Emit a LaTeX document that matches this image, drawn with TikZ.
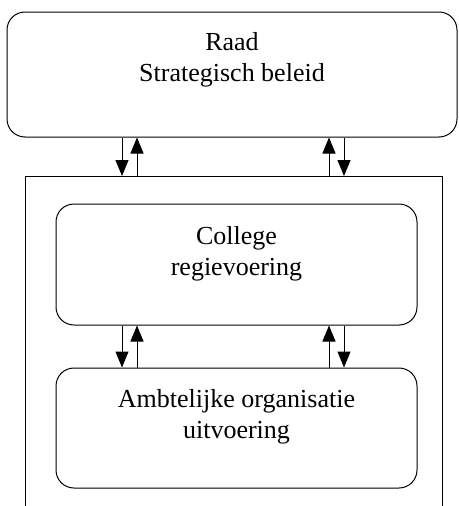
\documentclass[tikz,border=0pt]{standalone}
\usepackage{fontspec}
\setmainfont{Liberation Serif}
\usetikzlibrary{arrows.meta}

\begin{document}
\begin{tikzpicture}[x=1pt, y=-1pt,
    box/.style={draw, rounded corners=18pt, line width=1pt, inner sep=0pt},
    boxtext/.style={anchor=north, align=center, inner sep=0pt, font=\rmfamily\fontsize{26}{31}\selectfont},
    arr/.style={line width=1pt, -{Triangle[length=16pt, width=13pt]}}]
    \useasboundingbox (0, 0) rectangle (458, 506);
    \clip (0, 0) rectangle (458, 506);
    %\draw[lightgray] (0, 0) grid[step=50] (458, 506);
    \node[box, minimum width=450pt, minimum height=125pt] (raad) at (232, 74.5) {};
    \node[boxtext] (raadtekst) at ([yshift=-21pt] raad.north) {Raad\\Strategisch beleid};
    \node[draw, line width=1pt, minimum width=417pt, minimum height=360pt, anchor=north] (gemeente) at (233.5, 176) {};
    \node[box, minimum width=361pt, minimum height=121pt] (college) at (236.5, 264.5) {};
    \node[boxtext] (collegetekst) at ([yshift=-23pt] college.north) {College\\regievoering};
    \node[box, minimum width=361pt, minimum height=120pt] (ambtelijk) at (236.5, 428) {};
    \node[boxtext] (ambtelijktekst) at ([yshift=-22pt] ambtelijk.north) {Ambtelijke organisatie\\uitvoering};
    \draw[arr] (122, 0 |- raad.south) -- (122, 0 |- gemeente.north);
    \draw[arr] (137, 0 |- gemeente.north) -- (137, 0 |- raad.south);
    \draw[arr] (329, 0 |- gemeente.north) -- (329, 0 |- raad.south);
    \draw[arr] (344, 0 |- raad.south) -- (344, 0 |- gemeente.north);
    \draw[arr] (122, 0 |- college.south) -- (122, 0 |- ambtelijk.north);
    \draw[arr] (137, 0 |- ambtelijk.north) -- (137, 0 |- college.south);
    \draw[arr] (329, 0 |- ambtelijk.north) -- (329, 0 |- college.south);
    \draw[arr] (344, 0 |- college.south) -- (344, 0 |- ambtelijk.north);
\end{tikzpicture}
\end{document}
